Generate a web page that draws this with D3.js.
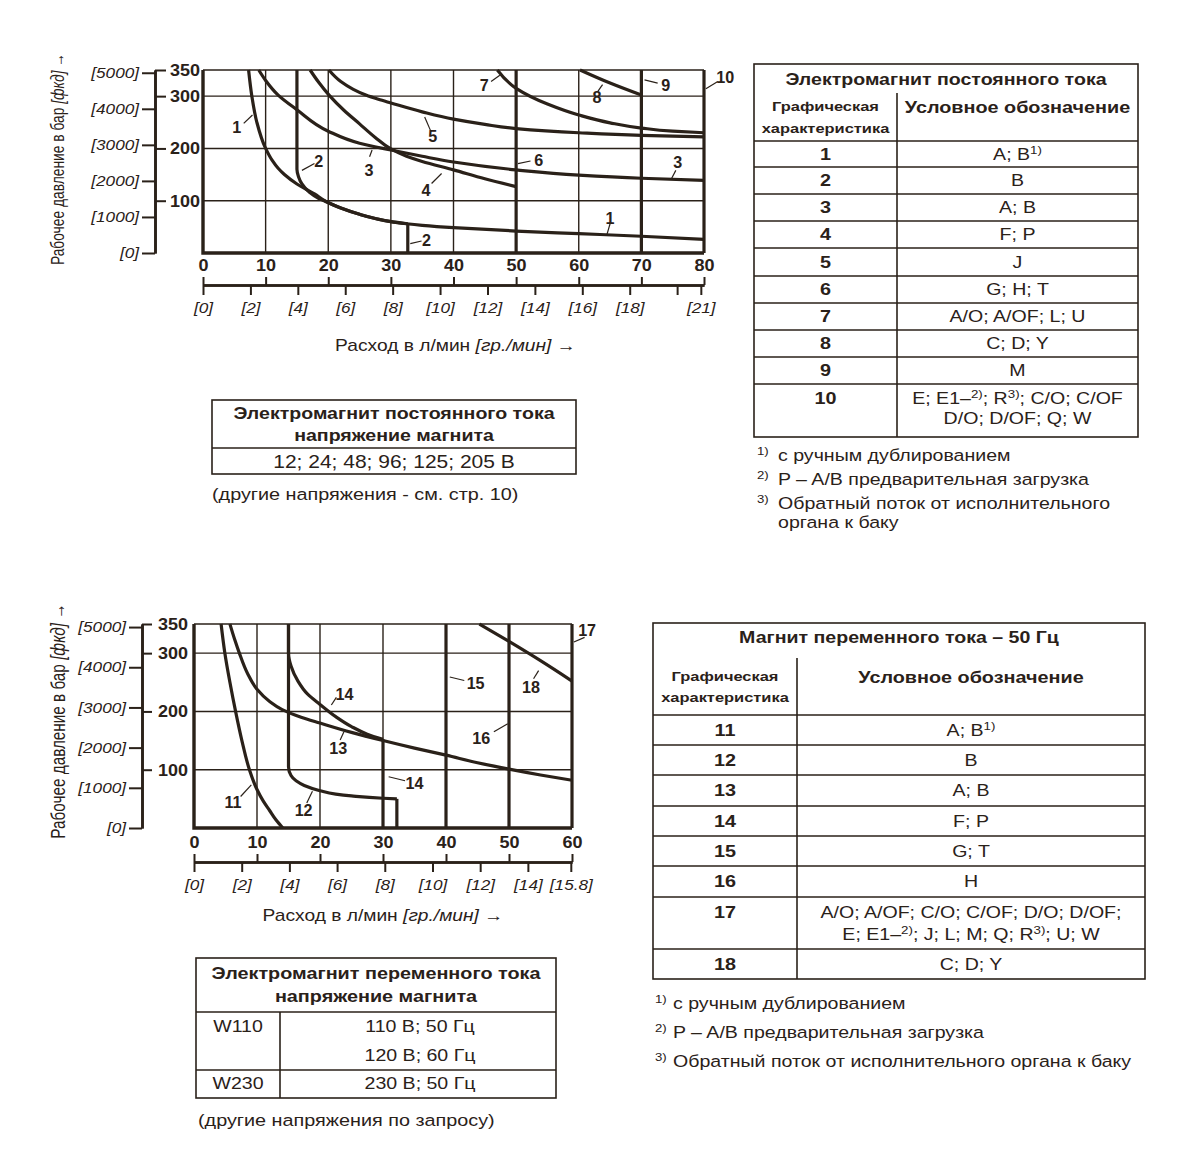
<!DOCTYPE html>
<html><head><meta charset="utf-8">
<script src="https://cdn.jsdelivr.net/npm/d3@7"></script>
<style>body{margin:0;background:#fff}</style>
</head><body><svg id="c" width="1200" height="1168"></svg>
<script>
// ---------------- DATA ----------------
const PSI_PER_BAR = 14.5038;
const LPM_PER_GPM = 3.78541;

// DC chart (flow l/min, pressure bar)
const dcXTicks = [0,10,20,30,40,50,60,70,80];
const dcGrid = [10,20,30,40,50,60,70];
const dcGpmTicks = [0,2,4,6,8,10,12,14,16,18,20,21];
const dcGpmLabels = [0,2,4,6,8,10,12,14,16,18,21];
const barTicks = [100,200,300,350];
const psiTicks = [0,1000,2000,3000,4000,5000];
const pGrid = [100,200,300,350];

const dc1 = [[7.28,350],[7.8,300],[8.6,250],[10,200],[11,178],[12,162],[13,150],[15,132],[17.8,113],[19.7,98],[22,86],[25,74],[27.5,66],[30,60],[32.5,56],[35,53],[40,48.5],[50,42],[60,37],[70,32],[80,26]];
const dc2a = [[15,350],[15,160],[15.25,146],[15.8,132],[17,116],[18.5,104],[19.7,98],[22,86],[25,74],[27.5,66],[30,60],[32.7,56]];
const dc2b = [[32.7,56],[32.7,0]];
const dc3 = [[8.9,350],[10,330],[12,302],[15,274],[20,233],[25,210],[30,197],[35,185],[40,174],[50,159],[60,149],[70,143],[80,139]];
const dc4 = [[17.1,350],[18.5,326],[20.2,301],[22.5,273],[25,247],[27.5,221],[30,199],[32.5,185],[35,175],[40,159],[45,142],[50,127]];
const dc5 = [[20.1,350],[22,328],[24,313],[26,302],[28,294],[30,287],[35,270],[40,256],[45,246],[50,238],[60,230],[70,225],[80,222]];
const dc6 = [[50,350],[50,0]];
const dc7 = [[47,350],[50,315],[55,285],[60,264],[65,249],[70,239],[75,233],[80,230]];
const dc8 = [[60.2,350],[65,325],[70,302]];
const dc9 = [[70,350],[70,0]];
const dc10 = [[80,350],[80,0]];

// label, label position, leader line start, leader line end (data units)
const dcLabels = [
  ["1",[5.4,241],[6.5,248],[7.9,264]],
  ["2",[18.5,176],[17.8,171],[15.8,158]],
  ["3",[26.5,158],[26.6,184],[27,197]],
  ["4",[35.6,120],[36.5,133],[38.1,152]],
  ["5",[36.7,223],[36.3,235],[35.4,260]],
  ["6",[53.6,177],[52.3,176],[50.3,171]],
  ["7",[44.9,321],[46,328],[47.4,340]],
  ["8",[62.9,299],[63,308],[63.8,322]],
  ["9",[73.9,321],[72.6,325],[70.5,331]],
  ["10",[83.4,337],[82.2,328],[80.3,314]],
  ["3",[75.8,174],[75.5,158],[74.8,142]],
  ["1",[65,66],[65,56],[64.5,35]],
  ["2",[35.7,24],[34.9,23],[33.1,18]]
];

// AC chart
const acXTicks = [0,10,20,30,40,50,60];
const acGrid = [10,20,30,40,50];
const acGpmTicks = [0,2,4,6,8,10,12,14,15.8];
const acGpmLabels = [0,2,4,6,8,10,12,14,15.8];

const ac11 = [[4.3,350],[4.9,300],[5.7,250],[6.6,200],[7.6,150],[8.8,100],[10,66],[11,46],[12,30],[13,14],[14.1,0]];
const ac12a = [[15,350],[15,105],[15.4,90],[16.2,81],[17.5,73],[20,64],[22.5,58],[25,55],[30,51],[32.2,50]];
const ac12b = [[32.2,50],[32.2,0]];
const ac13 = [[5.7,350],[6.5,322],[7.2,300],[8.5,265],[10,238],[12,217],[14,203],[17,190],[20,180],[25,164],[30,150],[35,137],[40,125],[45,112],[50,101],[55,91],[60,82]];
const ac14a = [[15,350],[15,300],[15.4,278],[16.5,252],[18,230],[20,212],[22.5,191],[25,174],[27.5,161],[30,152]];
const ac14b = [[30,152],[30,0]];
const ac15 = [[40,350],[40,0]];
const ac16 = [[50,350],[50,0]];
const ac17 = [[60,350],[60,0]];
const ac18 = [[45.3,350],[50,320],[55,287],[60,252]];

const acLabels = [
  ["11",[6.2,44],[7.4,54],[9.1,74]],
  ["12",[17.4,30],[17.9,43],[18.8,63]],
  ["13",[22.9,138],[23.2,151],[23.8,165]],
  ["14",[23.9,229],[22.6,224],[21.8,211]],
  ["14",[35,77],[33.5,81],[30.9,88]],
  ["15",[44.7,248],[42.9,253],[40.6,259]],
  ["16",[45.6,154],[47.6,165],[49.8,179]],
  ["17",[62.4,339],[62,327],[60.3,319]],
  ["18",[53.5,242],[53.9,256],[54.7,270]]
];

// tables
const dcIds = ["1","2","3","4","5","6","7","8","9","10"];
const dcCodes = ["A; B^{1)}","B","A; B","F; P","J","G; H; T","A/O; A/OF; L; U","C; D; Y","M","E; E1–^{2)}; R^{3)}; C/O; C/OF|D/O; D/OF; Q; W"];
const acIds = ["11","12","13","14","15","16","17","18"];
const acCodes = ["A; B^{1)}","B","A; B","F; P","G; T","H","A/O; A/OF; C/O; C/OF; D/O; D/OF;|E; E1–^{2)}; J; L; M; Q; R^{3)}; U; W","C; D; Y"];
const dcNotes = ["с ручным дублированием","P – A/B предварительная загрузка","Обратный поток от исполнительного|органа к баку"];
const acNotes = ["с ручным дублированием","P – A/B предварительная загрузка","Обратный поток от исполнительного органа к баку"];
const noteMarks = ["1)","2)","3)"];
const dcVoltages = "12; 24; 48; 96; 125; 205 В";
const acVoltCodes = ["W110","W230"];
const acVoltValues = [["110 В; 50 Гц","120 В; 60 Гц"],["230 В; 50 Гц"]];

// ---------------- DRAWING ----------------
const INK = "#2a2119";
const SANS = "'Liberation Sans', Arial, sans-serif";
const SX = 1.2;
const TXT = 16.3;
const svg = d3.select("#c");
svg.append("rect").attr("width",1200).attr("height",1168).attr("fill","#fff");

function T(parent, x, y, str, o = {}) {
  const size = o.size || TXT;
  let tr = `translate(${x},${y}) scale(${o.sx || SX},1)`;
  if (o.rotate) tr += ` rotate(${o.rotate})`;
  const t = parent.append("text")
    .attr("transform", tr)
    .attr("text-anchor", o.anchor || "middle")
    .attr("font-family", o.family || SANS)
    .attr("font-size", size)
    .attr("font-weight", o.weight || "normal")
    .attr("font-style", o.style || "normal")
    .attr("fill", INK)
    .attr("dy", "0.35em");
  const parts = str.split(/(\^\{[^}]*\}|~\{[^}]*\})/);
  let shifted = false;
  parts.forEach(p => {
    if (p === "") return;
    if (p.startsWith("^{")) {
      t.append("tspan").attr("font-size", size * 0.68).attr("dy", -size * 0.38).text(p.slice(2, -1));
      shifted = true;
    } else {
      const ts = t.append("tspan");
      if (p.startsWith("~{")) { ts.attr("font-style", "italic").text(p.slice(2, -1)); }
      else ts.text(p);
      if (shifted) { ts.attr("dy", size * 0.38); shifted = false; }
    }
  });
  return t;
}

function restyle(sel, o) {
  sel.attr("fill", INK).attr("font-family", o.family).attr("font-weight", o.weight || "normal")
    .attr("font-style", o.style || "normal").attr("font-size", o.size)
    .each(function () {
      const t = d3.select(this); const px = +t.attr("x") || 0, py = +t.attr("y") || 0;
      t.attr("x", null).attr("y", null).attr("transform", `translate(${px},${py}) scale(${o.sx},1)`);
    });
}

function drawChart(c) {
  const g = svg.append("g");
  const x = d3.scaleLinear().domain([0, c.xMax]).range([c.L, c.R]);
  const y = d3.scaleLinear().domain([0, 350]).range([c.B, c.T]);
  const yPsi = d3.scaleLinear().domain([0, 350 * PSI_PER_BAR]).range([c.B, c.T]);
  const xGpm = d3.scaleLinear().domain([0, c.xMax / LPM_PER_GPM]).range([c.L, c.R]);

  g.append("g").selectAll("line").data(c.grid).join("line")
    .attr("x1", d => x(d)).attr("x2", d => x(d)).attr("y1", y(0)).attr("y2", y(350))
    .attr("stroke", INK).attr("stroke-width", 1.4);
  g.append("g").selectAll("line").data(pGrid).join("line")
    .attr("x1", x(0)).attr("x2", x(c.xMax)).attr("y1", d => y(d)).attr("y2", d => y(d))
    .attr("stroke", INK).attr("stroke-width", 1.4);

  const lg = d3.line().x(d => x(d[0])).y(d => y(d[1]));
  c.series.forEach(piece => {
    lg.curve(piece.length > 2 ? d3.curveMonotoneY : d3.curveLinear);
    g.append("path").attr("d", lg(piece)).attr("fill", "none")
      .attr("stroke", INK).attr("stroke-width", 3.2).attr("stroke-linejoin", "round");
  });

  g.append("path").attr("d", `M${x(0)},${y(350)}V${y(0)}H${x(c.xMax)}`)
    .attr("fill", "none").attr("stroke", INK).attr("stroke-width", 3.4);

  c.labels.forEach(l => {
    g.append("line").attr("x1", x(l[2][0])).attr("y1", y(l[2][1])).attr("x2", x(l[3][0])).attr("y2", y(l[3][1]))
      .attr("stroke", INK).attr("stroke-width", 1.2);
    T(g, x(l[1][0]), y(l[1][1]), l[0], {weight: "bold", size: 17, sx: 0.95});
  });

  // y axes
  const gb = g.append("g").attr("transform", `translate(${c.axisX},0)`)
    .call(d3.axisRight(y).tickValues(barTicks).tickSize(c.barTick).tickSizeOuter(0).tickPadding(c.barPad).tickFormat(d3.format("d")));
  const gp = g.append("g").attr("transform", `translate(${c.axisX},0)`)
    .call(d3.axisLeft(yPsi).tickValues(psiTicks).tickSize(13).tickSizeOuter(0).tickPadding(3).tickFormat(d => `[${d}]`));

  // x axes
  const gx = g.append("g").attr("transform", `translate(0,${c.axisY})`)
    .call(d3.axisTop(x).tickValues(c.xTicks).tickSize(8).tickSizeOuter(0).tickPadding(6).tickFormat(d3.format("d")));
  const gg = g.append("g").attr("transform", `translate(0,${c.axisY})`)
    .call(d3.axisBottom(xGpm).tickValues(c.gpmTicks).tickSize(10).tickSizeOuter(0).tickPadding(8)
      .tickFormat(d => c.gpmLabels.includes(d) ? `[${d}]` : ""));

  [gb, gp, gx, gg].forEach(a => {
    a.select(".domain").attr("stroke", INK).attr("stroke-width", 2.6);
    a.selectAll(".tick line").attr("stroke", INK).attr("stroke-width", 2);
  });
  [gb, gx].forEach(a => restyle(a.selectAll(".tick text"), {family: SANS, weight: "bold", size: 17, sx: 1.06}));
  [gp, gg].forEach(a => restyle(a.selectAll(".tick text"), {family: SANS, style: "italic", size: 14.3, sx: 1.2}));

  T(g, (c.L + c.R) / 2 + c.titleDX, c.titleY, "Расход в л/мин ~{[гр./мин]} →", {size: 16});
  T(g, c.yTitleX, c.yTitleY, "Рабочее давление в бар ~{[фкд]} →", {size: c.yTitleSize, sx: 1.3, rotate: -90});
}

drawChart({xMax: 80, L: 203, R: 704, T: 70, B: 253, axisX: 155, barTick: 11, barPad: 4, axisY: 285,
  grid: dcGrid, xTicks: dcXTicks, gpmTicks: dcGpmTicks, gpmLabels: dcGpmLabels,
  series: [dc1, dc2a, dc2b, dc3, dc4, dc5, dc6, dc7, dc8, dc9, dc10], labels: dcLabels,
  titleY: 345, titleDX: 2, yTitleX: 58, yTitleY: 159, yTitleSize: 13.8});

drawChart({xMax: 60, L: 194, R: 572, T: 624, B: 828, axisX: 142, barTick: 10, barPad: 6, axisY: 862,
  grid: acGrid, xTicks: acXTicks, gpmTicks: acGpmTicks, gpmLabels: acGpmLabels,
  series: [ac11, ac12a, ac12b, ac13, ac14a, ac14b, ac15, ac16, ac17, ac18], labels: acLabels,
  titleY: 915, titleDX: 0, yTitleX: 58, yTitleY: 721, yTitleSize: 15.3});

function drawCodeTable(t) {
  const g = svg.append("g");
  const bottom = t.rows[t.rows.length - 1];
  g.append("rect").attr("x", t.x0).attr("y", t.top).attr("width", t.x2 - t.x0).attr("height", bottom - t.top)
    .attr("fill", "none").attr("stroke", INK).attr("stroke-width", 1.6);
  g.append("line").attr("x1", t.x1).attr("x2", t.x1).attr("y1", t.divTop).attr("y2", bottom)
    .attr("stroke", INK).attr("stroke-width", 1.6);
  g.selectAll(".hl").data(t.rows.slice(0, -1)).join("line")
    .attr("x1", t.x0).attr("x2", t.x2).attr("y1", d => d).attr("y2", d => d)
    .attr("stroke", INK).attr("stroke-width", 1.6);
  T(g, (t.x0 + t.x2) / 2, t.titleY, t.title, {weight: "bold"});
  T(g, (t.x0 + t.x1) / 2, t.h1Y, "Графическая", {weight: "bold", size: 13.7});
  T(g, (t.x0 + t.x1) / 2, t.h2Y, "характеристика", {weight: "bold", size: 13.7});
  T(g, (t.x1 + t.x2) / 2, t.hRY, "Условное обозначение", {weight: "bold", size: 16.5});
  t.ids.forEach((id, i) => {
    const top = t.rows[i], bot = t.rows[i + 1];
    const lines = t.codes[i].split("|");
    if (lines.length === 1) {
      T(g, (t.x0 + t.x1) / 2, (top + bot) / 2, id, {weight: "bold", size: 16.5});
      T(g, (t.x1 + t.x2) / 2, (top + bot) / 2, lines[0]);
    } else {
      T(g, (t.x0 + t.x1) / 2, top + t.mlFirst, id, {weight: "bold", size: 16.5});
      lines.forEach((ln, k) => T(g, (t.x1 + t.x2) / 2, top + t.mlFirst + k * t.mlStep, ln));
    }
  });
  let yy = t.noteY;
  t.notes.forEach((n, i) => {
    const ls = n.split("|");
    T(g, t.noteMarkX, yy - 4, noteMarks[i], {size: 11, anchor: "start"});
    ls.forEach((ln, k) => T(g, t.noteX, yy + k * t.noteLine, ln, {anchor: "start"}));
    yy += t.noteStep + (ls.length - 1) * t.noteLine;
  });
}

drawCodeTable({x0: 754, x1: 897, x2: 1138, top: 64, divTop: 93, titleY: 79, h1Y: 106, h2Y: 128, hRY: 107,
  rows: [141, 167, 194, 221, 248, 276, 303, 330, 357, 384, 437], mlFirst: 14, mlStep: 20,
  title: "Электромагнит постоянного тока", ids: dcIds, codes: dcCodes,
  notes: dcNotes, noteMarkX: 757, noteX: 778, noteY: 455, noteStep: 24, noteLine: 19});

drawCodeTable({x0: 653, x1: 797, x2: 1145, top: 623, divTop: 658, titleY: 637, h1Y: 676, h2Y: 697, hRY: 677,
  rows: [715, 745, 775, 806, 836, 866, 897, 949, 979], mlFirst: 15, mlStep: 22,
  title: "Магнит переменного тока – 50 Гц", ids: acIds, codes: acCodes,
  notes: acNotes, noteMarkX: 655, noteX: 673, noteY: 1003, noteStep: 29, noteLine: 19});

// DC voltage table
(function () {
  const g = svg.append("g");
  g.append("rect").attr("x", 212).attr("y", 400).attr("width", 364).attr("height", 74)
    .attr("fill", "none").attr("stroke", INK).attr("stroke-width", 1.6);
  g.append("line").attr("x1", 212).attr("x2", 576).attr("y1", 448).attr("y2", 448).attr("stroke", INK).attr("stroke-width", 1.6);
  T(g, 394, 413, "Электромагнит постоянного тока", {weight: "bold"});
  T(g, 394, 435, "напряжение магнита", {weight: "bold"});
  T(g, 394, 462, dcVoltages, {size: 17.5});
  T(g, 212, 494, "(другие напряжения - см. стр. 10)", {size: 16.5, anchor: "start"});
})();

// AC voltage table
(function () {
  const g = svg.append("g");
  g.append("rect").attr("x", 196).attr("y", 958).attr("width", 360).attr("height", 140)
    .attr("fill", "none").attr("stroke", INK).attr("stroke-width", 1.6);
  g.append("line").attr("x1", 196).attr("x2", 556).attr("y1", 1012).attr("y2", 1012).attr("stroke", INK).attr("stroke-width", 1.6);
  g.append("line").attr("x1", 196).attr("x2", 556).attr("y1", 1070).attr("y2", 1070).attr("stroke", INK).attr("stroke-width", 1.6);
  g.append("line").attr("x1", 280).attr("x2", 280).attr("y1", 1012).attr("y2", 1098).attr("stroke", INK).attr("stroke-width", 1.6);
  T(g, 376, 973, "Электромагнит переменного тока", {weight: "bold", size: 16.5});
  T(g, 376, 996, "напряжение магнита", {weight: "bold", size: 16.5});
  const rowY = [[1026, 1055], [1083]];
  acVoltCodes.forEach((code, i) => {
    T(g, 238, rowY[i][0], code);
    acVoltValues[i].forEach((v, k) => T(g, 420, rowY[i][k], v));
  });
  T(g, 198, 1120, "(другие напряжения по запросу)", {size: 16.5, anchor: "start"});
})();
</script></body></html>
